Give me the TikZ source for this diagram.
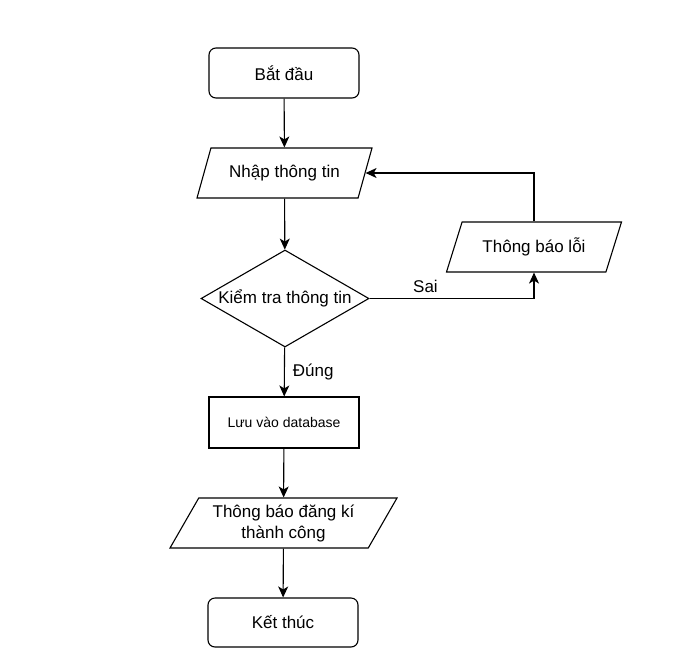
\documentclass[tikz,border=0pt]{standalone}
\usepackage{fontspec}
\setmainfont{Liberation Sans}
\usepackage{tikz}
\usetikzlibrary{shapes.geometric,arrows.meta}

\begin{document}
\begin{tikzpicture}[x=1pt,y=-1pt,
    every node/.style={font=\fontsize{17}{21}\selectfont},
    terminal/.style={draw, line width=1.1pt, rounded corners=7pt, minimum width=150pt, minimum height=50pt},
    process/.style={draw, line width=1.1pt, minimum width=150pt, minimum height=51pt},
    io/.style={draw, line width=1.1pt, trapezium, trapezium left angle=55, trapezium right angle=125,
        trapezium stretches body, minimum height=50pt, inner sep=2pt},
    decision/.style={draw, line width=1.1pt, diamond, aspect=1.73, minimum width=168pt, minimum height=97pt, inner sep=0pt},
    arr/.style={line width=1.1pt, -{Stealth[length=11pt, width=10pt, inset=3pt]}}]
\useasboundingbox (0,0) rectangle (680,662);

    \node[terminal] (start) at (284,73) {Bắt đầu};
    \node[io, minimum width=175pt] (nhap) at (284.5,173) {Nhập thông tin};
    \node[decision] (kiemtra) at (285,298.5) {Kiểm tra thông tin};
    \node[io, minimum width=175pt] (loi) at (534,247) {Thông báo lỗi};
    \node[process, font=\fontsize{14}{17}\selectfont] (luu) at (284,422.5) {Lưu vào database};
    \node[io, minimum width=227pt, align=center] (thongbao) at (283.5,523) {Thông báo đăng kí\\thành công};
    \node[terminal, minimum height=49pt] (ketthuc) at (283,622.5) {Kết thúc};

    % draw the arrows
    \draw[arr] (start) -- (nhap);
    \draw[arr] (nhap) -- (kiemtra);
    \draw[arr] (kiemtra) -- node[right, inner sep=8pt] {Đúng} (luu);
    \draw[arr] (kiemtra.east) -| node[pos=0.17, above, inner sep=5pt] {Sai} (loi.south);
    \draw[arr] (loi.north) |- (nhap.east);
    \draw[arr] (luu) -- (thongbao);
    \draw[arr] (thongbao) -- (ketthuc);

\end{tikzpicture}
\end{document}
